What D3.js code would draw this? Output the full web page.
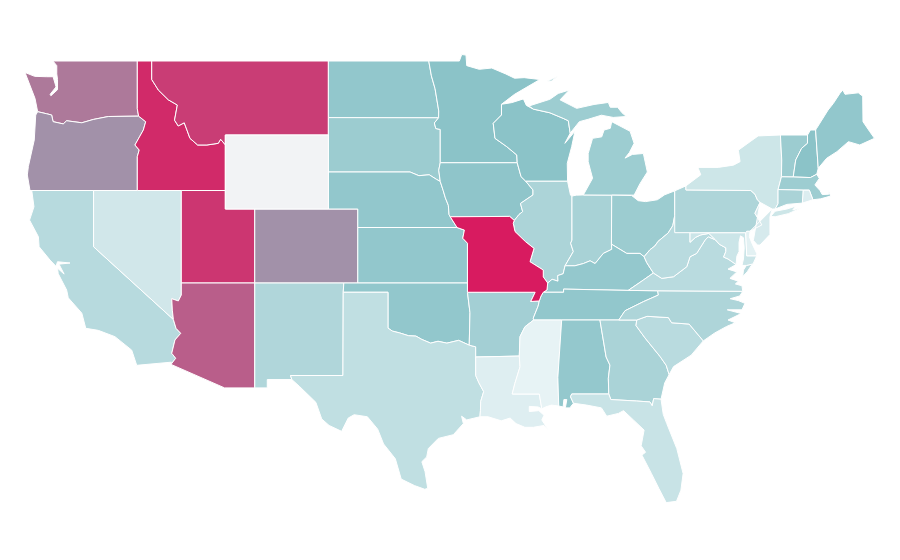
<!DOCTYPE html>
<html>

<head>
    <title>US states choropleth</title>
    <script src="https://d3js.org/d3.v7.min.js"></script>
    <style>
        body {
            margin: 0;
            background: #fff;
        }

        .state {
            stroke: #fff;
            stroke-width: 1;
            stroke-linejoin: round;
        }
    </style>
</head>

<body>
    <svg id="map" width="900" height="560"></svg>

    <script>
        // shared borders, [lon, lat], so that neighbours line up
        var waOr = [[-123.8, 46.26], [-123.2, 46.15], [-122.85, 46.08], [-122.75, 45.72], [-122.06, 45.6], [-121.83, 45.77], [-120.8, 45.66], [-120.02, 45.84], [-119, 46], [-116.94, 46.02]];
        var orId = [[-116.94, 46.02], [-116.46, 45.72], [-116.62, 45.27], [-117.19, 44.46], [-116.9, 44.19], [-117.03, 43.83], [-117.03, 42]];
        var idMt = [[-116.05, 49], [-116.05, 48], [-115.6, 47.43], [-114.92, 46.9], [-114.31, 46.62], [-114.5, 45.8], [-114.25, 45.49], [-113.84, 45.66], [-113.45, 44.82], [-112.93, 44.46], [-112.3, 44.46], [-111.53, 44.55], [-111.37, 44.77], [-111.05, 44.47]];
        var azCol = [[-114.04, 36.35], [-114.24, 36.03], [-114.69, 36.15], [-114.65, 35.53], [-114.58, 35.03]];
        var azCa = [[-114.58, 35.03], [-114.4, 34.55], [-114.08, 34.28], [-114.47, 33.92], [-114.69, 33.2], [-114.42, 32.93], [-114.74, 32.6]];
        var ndMn = [[-97.23, 49], [-97.05, 48.2], [-96.8, 47.5], [-96.55, 46.3], [-96.56, 45.93]];
        var sdMn = [[-96.56, 45.93], [-96.85, 45.65], [-96.75, 45.35], [-96.45, 45.3], [-96.45, 43.5]];
        var sdNe = [[-104.05, 43], [-98.5, 43], [-97.9, 42.8], [-97.2, 42.85], [-96.7, 42.6], [-96.45, 42.49]];
        var sdIa = [[-96.45, 43.5], [-96.55, 43.1], [-96.45, 42.49]];
        var neIa = [[-96.45, 42.49], [-96.25, 42], [-96.1, 41.6], [-95.9, 41.2], [-95.85, 40.7], [-95.77, 40.58]];
        var neMo = [[-95.77, 40.58], [-95.31, 40]];
        var ksMo = [[-95.31, 40], [-94.81, 39.86], [-94.92, 39.42], [-94.6, 39.15], [-94.6, 36.5]];
        var redRiver = [[-100, 34.56], [-99.7, 34.4], [-99.2, 34.3], [-98.6, 34.15], [-98.1, 34.13], [-97.7, 33.95], [-97.1, 33.75], [-96.6, 33.85], [-96, 33.75], [-95.2, 33.9], [-94.48, 33.64]];
        var okAr = [[-94.6, 36.5], [-94.43, 35.4], [-94.48, 33.64]];
        var txLa = [[-94.04, 33], [-94.04, 32], [-93.82, 31.6], [-93.5, 31.13], [-93.7, 30.6], [-93.72, 30.1], [-93.75, 29.77]];
        var mnWi = [[-92.29, 46.66], [-92.29, 46.08], [-92.85, 45.63], [-92.73, 44.82], [-91.93, 44.37], [-91.25, 43.92], [-91.22, 43.5]];
        var iaWi = [[-91.22, 43.5], [-90.96, 42.75], [-90.64, 42.5]];
        var iaIl = [[-90.64, 42.5], [-90.15, 42.03], [-90.15, 41.76], [-91, 41.3], [-90.85, 40.86], [-91.1, 40.7], [-91.42, 40.38]];
        var moIl = [[-91.42, 40.38], [-91.49, 40.23], [-91.37, 39.78], [-90.65, 39.23], [-90.08, 38.87], [-90.35, 38.15], [-89.45, 37.7], [-89.45, 37.33], [-89.15, 37]];
        var moKy = [[-89.15, 37], [-89.2, 36.62], [-89.45, 36.5]];
        var moTn = [[-89.45, 36.5], [-89.6, 36.3], [-89.72, 36.03]];
        var arTn = [[-89.72, 36.03], [-89.8, 35.75], [-90.13, 35.1], [-90.1, 35]];
        var arMs = [[-90.1, 35], [-90.7, 34.63], [-91.03, 34.1], [-91.08, 33.05]];
        var laMs = [[-91.08, 33.05], [-91.03, 32.47], [-91.38, 31.57], [-91.56, 31], [-89.72, 31], [-89.55, 30.2]];
        var ilKy = [[-89.15, 37], [-88.85, 37.2], [-88.45, 37.1], [-88.47, 37.4], [-88.1, 37.5], [-87.97, 37.93]];
        var ilIn = [[-87.97, 37.93], [-87.41, 38.7], [-87.59, 39.15], [-87.5, 39.32], [-87.5, 41.7]];
        var inKy = [[-87.97, 37.93], [-87.3, 37.93], [-86.73, 38.05], [-86.27, 38.2], [-85.93, 38.05], [-85.37, 38.6], [-84.8, 38.82], [-84.82, 39.1]];
        var ohKy = [[-84.82, 39.1], [-83.78, 38.6], [-82.88, 38.6], [-82.6, 38.42]];
        var ohWv = [[-82.6, 38.42], [-82.2, 38.8], [-81.87, 39], [-81.65, 39.25], [-80.97, 39.7], [-80.65, 40.1], [-80.52, 40.64]];
        var kyWv = [[-82.6, 38.42], [-82.42, 38.1], [-81.97, 37.54]];
        var kyVa = [[-81.97, 37.54], [-82.65, 37.16], [-83.68, 36.6]];
        var wvVa = [[-81.97, 37.54], [-81.4, 37.25], [-80.6, 37.34], [-79.7, 37.88], [-79.48, 38.42], [-79.03, 38.6], [-78.46, 39.32], [-78.24, 39.5], [-77.75, 39.33]];
        var mdWv = [[-79.48, 39.72], [-79.48, 39.2], [-79.1, 39.47], [-78.75, 39.6], [-78.2, 39.68], [-77.75, 39.33]];
        var mdVa = [[-77.75, 39.33], [-77.5, 39.1], [-77.05, 38.9], [-77.05, 38.7], [-77.2, 38.4], [-76.9, 38.3], [-76.35, 38]];
        var tnNc = [[-81.68, 36.58], [-81.63, 36.35], [-82.65, 35.99], [-83.9, 35.5], [-84.32, 35]];
        var ncSc = [[-83.1, 35], [-82.4, 35.2], [-80.95, 35.13], [-80.73, 34.85], [-79.54, 34.78], [-78.58, 33.87]];
        var gaSc = [[-83.1, 35], [-83.15, 34.7], [-82.54, 34.03], [-81.52, 33.03], [-81.1, 32.55], [-80.9, 32.05]];
        var gaAl = [[-85.6, 35], [-85.18, 33], [-84.92, 32.56], [-85.03, 31.85], [-85, 31]];
        var gaFl = [[-85, 31], [-84.86, 30.7], [-83.1, 30.62], [-82.2, 30.57], [-82.05, 30.36], [-81.95, 30.75], [-81.45, 30.72]];
        var paNy = [[-79.76, 42.25], [-79.76, 42.03], [-75.35, 42]];
        var delRiver = [[-75.35, 42], [-75.07, 41.8], [-74.9, 41.49], [-74.72, 41.36]];
        var njPa = [[-74.72, 41.36], [-75.07, 40.77], [-74.6, 40.14], [-75.4, 39.8]];
        var vtNh = [[-71.5, 45], [-71.5, 44.55], [-71.9, 44.28], [-72.3, 43.65], [-72.47, 42.73]];
        var nyNe = [[-73.34, 45], [-73.25, 43.65], [-73.27, 42.74], [-73.5, 42.05], [-73.5, 41.29], [-73.7, 41]];

        function rev(seg) { return seg.slice().reverse(); }
        function join() { return [].concat.apply([], arguments); }

        var washington = join([[-122.76, 49], [-117.03, 49], [-117.03, 46.42]], rev(waOr), [[-123.98, 46.98], [-124.66, 48.38], [-124, 48.17], [-123.2, 48.15], [-122.75, 48.15], [-122.55, 47.6], [-122.95, 47.2], [-122.9, 47.12], [-122.45, 47.45], [-122.45, 48], [-122.5, 48.3], [-122.5, 48.75]]);
        var oregon = join(waOr, orId, [[-124.32, 42], [-124.5, 42.84], [-124.43, 43.3], [-124.03, 44.73], [-123.93, 46.08]]);
        var california = join([[-124.2, 42], [-120, 42], [-120, 38.96]], azCa, [[-114.72, 32.72], [-117.07, 32.55], [-117.41, 33.37], [-118.55, 34.1], [-119.68, 34.44], [-120.53, 34.55], [-120.8, 35.37], [-121.72, 36.2], [-121.83, 36.62], [-122.4, 37.5], [-122.45, 37.8], [-122, 37.48], [-122.35, 38.02], [-121.6, 38.08], [-122.45, 38.15], [-122.55, 37.9], [-122.96, 38.24], [-123.7, 38.96], [-123.75, 39.5], [-124.35, 40.4], [-124.05, 41.12]]);
        var nevada = join([[-120, 42], [-114.04, 42]], azCol, [[-120, 38.96]]);
        var idaho = join([[-117.03, 49]], idMt, [[-111.05, 42]], rev(orId), [[-117.03, 46.42]]);
        var montana = join(idMt, [[-111.05, 45], [-104.05, 45], [-104.05, 49]]);
        var wyoming = [[-111.05, 45], [-104.05, 45], [-104.05, 41], [-111.05, 41]];
        var utah = [[-114.04, 42], [-111.05, 42], [-111.05, 41], [-109.05, 41], [-109.05, 37], [-114.04, 37]];
        var colorado = [[-109.05, 41], [-102.05, 41], [-102.05, 37], [-109.05, 37]];
        var arizona = join([[-114.04, 37], [-109.05, 37], [-109.05, 31.33], [-111.1, 31.33]], rev(azCa), rev(azCol));
        var newMexico = [[-109.05, 37], [-103, 37], [-103.04, 36.5], [-103.06, 32], [-106.62, 32], [-106.53, 31.78], [-108.2, 31.78], [-108.2, 31.33], [-109.05, 31.33]];
        var northDakota = join([[-104.05, 49]], ndMn, [[-104.05, 45.94]]);
        var southDakota = join([[-104.05, 45.94]], sdMn, sdIa, rev(sdNe));
        var nebraska = join(sdNe, neIa, neMo, [[-102.05, 40], [-102.05, 41], [-104.05, 41]]);
        var kansas = join([[-102.05, 40]], ksMo.slice(0, 4), [[-94.6, 37], [-102.05, 37]]);
        var oklahoma = join([[-103, 37], [-94.6, 37]], okAr, rev(redRiver), [[-100, 36.5], [-103.04, 36.5]]);
        var texas = join([[-103.04, 36.5], [-100, 36.5]], redRiver, [[-94.04, 33.55]], txLa, [[-94.65, 29.6], [-95, 29.8], [-94.88, 29.4], [-95.56, 28.8], [-96.58, 28.6], [-97.26, 28.05], [-97.37, 27.6], [-97.7, 27.34], [-97.48, 26.8], [-97.3, 25.9], [-97.5, 25.85], [-98.2, 26.05], [-99.1, 26.4], [-99.5, 27.5], [-100.3, 28.3], [-100.7, 29.1], [-101.4, 29.77], [-102.3, 29.88], [-102.7, 29.7], [-103.15, 28.98], [-104, 29.3], [-104.5, 29.65], [-104.9, 30.55], [-106, 31.4], [-106.53, 31.78], [-106.62, 32], [-103.06, 32]]);
        var minnesota = join(ndMn, sdMn, [[-91.22, 43.5]], rev(mnWi), [[-91.4, 47.2], [-89.68, 48], [-90.75, 48.1], [-91.4, 48.07], [-92, 48.3], [-92.95, 48.62], [-93.8, 48.55], [-94.65, 48.75], [-94.7, 49.32], [-94.99, 49.35], [-95.15, 49], [-97.23, 49]]);
        var iowa = join([[-96.45, 43.5], [-91.22, 43.5]], iaWi, iaIl, [[-91.73, 40.6]], rev(neIa), rev(sdIa));
        var missouri = join(rev(neMo), [[-95.77, 40.58], [-91.73, 40.6]], moIl, moKy, moTn, [[-90.3, 36], [-90, 36.5]], rev(ksMo));
        var arkansas = join([[-94.6, 36.5], [-90, 36.5], [-90.3, 36]], arTn, arMs, [[-94.04, 33], [-94.04, 33.55]], rev(okAr));
        var louisiana = join([[-94.04, 33]], laMs, [[-89.8, 30.3], [-90.4, 30.33], [-90.4, 30.05], [-89.75, 30.1], [-89.4, 29.85], [-89.55, 29.6], [-89.1, 29.05], [-89.4, 29.3], [-90.13, 29.2], [-90.7, 29.2], [-91.3, 29.4], [-91.7, 29.7], [-92.3, 29.55], [-93.2, 29.77]], rev(txLa));
        var wisconsin = join(mnWi, iaWi, [[-87.8, 42.5], [-87.82, 43.47], [-87.52, 44.37], [-87.3, 45.2], [-87.98, 44.55], [-87.62, 45.1], [-87.75, 45.77], [-88.1, 45.9], [-89, 46.2], [-90.13, 46.4], [-90.6, 46.6], [-90.8, 46.95], [-91.6, 46.75]]);
        var illinois = join([[-90.64, 42.5], [-87.8, 42.5], [-87.6, 41.75]], rev(ilIn), rev(ilKy), rev(moIl), rev(iaIl));
        var indiana = join([[-87.5, 41.7], [-87.2, 41.75], [-86.73, 41.76], [-84.8, 41.75]], rev(inKy), ilIn.slice(1, 4));
        var michiganLower = [[-86.73, 41.76], [-86.1, 42.66], [-86.4, 43.56], [-86.4, 44], [-86.1, 44.82], [-85.48, 44.9], [-85.32, 45.27], [-84.9, 45.36], [-84.8, 45.72], [-83.55, 45.2], [-83.28, 44.55], [-83.6, 44.05], [-83.9, 43.75], [-83.4, 43.95], [-82.65, 44], [-82.38, 43], [-82.88, 42.37], [-83.28, 41.75], [-84.8, 41.75]];
        var michiganUpper = [[-90.42, 46.57], [-89, 46.93], [-88.43, 47.25], [-87.68, 47.43], [-88.31, 46.9], [-87.18, 46.44], [-86, 46.65], [-85.03, 46.76], [-84.9, 46.5], [-84.4, 46.5], [-84.1, 46.2], [-83.8, 46], [-84.7, 45.95], [-85.5, 46.07], [-86.4, 45.85], [-87, 45.72], [-87.62, 45.1], [-87.75, 45.77], [-88.1, 45.9], [-89, 46.2], [-90.13, 46.4]];
        var isleRoyale = [[-89.2, 47.9], [-88.45, 48.18], [-88.9, 47.92]];
        var ohio = join([[-84.8, 41.75], [-83.45, 41.73], [-83, 41.45], [-82.5, 41.4], [-81.7, 41.5], [-81.2, 41.77], [-80.52, 41.98]], rev(ohWv), rev(ohKy));
        var kentucky = join(ilKy.slice(0, 5), inKy, ohKy, kyWv, kyVa, [[-88.07, 36.67], [-88.07, 36.5]], rev(moKy));
        var tennessee = join([[-89.45, 36.5], [-88.07, 36.5], [-88.07, 36.67], [-83.68, 36.6]], tnNc, [[-90.1, 35]], rev(arTn), rev(moTn));
        var mississippi = join([[-90.1, 35], [-88.2, 35], [-88.46, 31.9], [-88.4, 30.35], [-88.9, 30.4], [-89.3, 30.3]], rev(laMs), rev(arMs));
        var alabama = join([[-88.2, 35]], gaAl, [[-87.52, 31], [-87.6, 30.85], [-87.4, 30.5], [-87.65, 30.25], [-87.95, 30.25], [-87.85, 30.7], [-88.05, 30.7], [-88.1, 30.3], [-88.4, 30.35], [-88.46, 31.9]]);
        var georgia = join([[-85.6, 35]], gaSc, [[-81.2, 31.6]], rev(gaFl), rev(gaAl));
        var florida = join([[-87.52, 31]], gaFl, [[-81.3, 29.9], [-81.06, 29.4], [-80.38, 28.05], [-79.95, 26.7], [-80.1, 25.8], [-80.4, 25.2], [-81.1, 25.13], [-81.6, 25.9], [-82.1, 26.7], [-82.75, 27.7], [-82.5, 27.85], [-82.8, 28.2], [-82.6, 29.05], [-83.33, 29.6], [-84, 30.1], [-84.35, 29.95], [-85.14, 29.8], [-85.5, 30.25], [-86.5, 30.4], [-87.4, 30.5], [-87.6, 30.85]]);
        var southCarolina = join(ncSc, [[-79.4, 33.1], [-80.6, 32.48]], rev(gaSc));
        var northCarolina = join([[-84.32, 35]], rev(tnNc), [[-75.9, 36.55], [-76.1, 36.3], [-76.75, 36.15], [-76.2, 36.05], [-75.75, 35.9], [-75.95, 35.55], [-76.95, 35.55], [-76, 35.35], [-76.9, 35], [-76.4, 34.85], [-77, 34.65], [-77.8, 34.3]], rev(ncSc));
        var virginia = join(rev(kyVa), wvVa, mdVa, [[-76.9, 37.75], [-76.3, 37.6], [-76.77, 37.25], [-76.2, 37.1], [-76.4, 36.95], [-75.95, 36.85], [-75.9, 36.55], [-81.68, 36.58]]);
        var virginiaShore = [[-75.65, 37.95], [-75.25, 38.03], [-75.6, 37.6], [-75.9, 37.35], [-75.85, 37.7]];
        var westVirginia = join([[-80.52, 40.64]], mdWv, rev(wvVa), rev(kyWv), ohWv);
        var maryland = join(mdWv.slice(0, 1), [[-75.7, 39.72], [-75.63, 38.47], [-74.95, 38.47], [-75.2, 38.03], [-75.65, 37.95], [-75.95, 37.95], [-75.85, 38.3], [-75.8, 38.9], [-75.85, 39.45], [-76.05, 39.55], [-76.15, 39.2], [-76.15, 38.7], [-76.3, 38.45]], rev(mdVa), rev(mdWv).slice(1));
        var delaware = [[-75.7, 39.72], [-75.63, 39.8], [-75.4, 39.8], [-75.45, 39.5], [-75.25, 39.1], [-74.95, 38.6], [-74.95, 38.47], [-75.63, 38.47]];
        var pennsylvania = join([[-80.52, 41.98]], paNy, delRiver, njPa, [[-75.63, 39.8], [-75.7, 39.72], [-80.52, 39.72], [-80.52, 40.64]]);
        var newJersey = join(rev(njPa), [[-75.18, 39.3], [-74.9, 39.05], [-74.73, 39.05], [-74.05, 39.62], [-74.05, 40.58], [-73.9, 41]]);
        var newYork = join(rev(paNy), [[-78.75, 42.85], [-78.95, 43.25], [-77.56, 43.25], [-76.53, 43.37], [-76.08, 43.56], [-76.2, 44.18], [-75.4, 44.64], [-74.85, 44.95]], nyNe, [[-73.9, 41], [-74.72, 41.36]], rev(delRiver));
        var longIsland = [[-74, 40.6], [-73.7, 40.88], [-72.9, 41], [-72.3, 41.15], [-72.5, 40.95], [-71.9, 41.07], [-72.8, 40.75], [-73.7, 40.58]];
        var vermont = join([[-73.34, 45]], vtNh, [[-73.27, 42.74], [-73.25, 43.65]]);
        var newHampshire = join(vtNh, [[-71.3, 42.7], [-70.87, 42.88], [-70.77, 43.2], [-70.95, 45.27], [-71.3, 45.27]]);
        var maine = [[-70.95, 45.27], [-70.88, 45.36], [-70.1, 46.35], [-69.75, 46.7], [-69.3, 47.25], [-69.1, 47.43], [-68.95, 47.2], [-68.05, 47.28], [-67.75, 47.1], [-67.73, 45.72], [-67.27, 45.18], [-66.95, 44.82], [-67.95, 44.46], [-68.72, 44.64], [-69.5, 44.1], [-70.2, 43.74], [-70.77, 43.2]];
        var massachusetts = [[-73.27, 42.74], [-72.47, 42.73], [-71.3, 42.7], [-70.87, 42.88], [-70.7, 42.65], [-71, 42.3], [-70.65, 42], [-70.5, 41.78], [-70.05, 41.8], [-70.1, 42.05], [-69.93, 41.7], [-70.6, 41.55], [-71.13, 41.5], [-71.38, 42.02], [-71.8, 42.02], [-73.5, 42.05]];
        var rhodeIsland = [[-71.8, 42.02], [-71.38, 42.02], [-71.13, 41.5], [-71.85, 41.32]];
        var connecticut = [[-73.5, 42.05], [-71.8, 42.02], [-71.85, 41.32], [-72.9, 41.25], [-73.7, 41], [-73.5, 41.29]];

        var stateNames = ["Washington", "Oregon", "California", "Nevada", "Idaho", "Montana", "Utah", "Colorado", "Arizona", "New Mexico", "North Dakota", "South Dakota", "Nebraska", "Kansas", "Oklahoma", "Texas", "Minnesota", "Iowa", "Arkansas", "Louisiana", "Wisconsin", "Illinois", "Indiana", "Michigan", "Ohio", "Kentucky", "Tennessee", "Mississippi", "Alabama", "Georgia", "Florida", "South Carolina", "North Carolina", "Virginia", "West Virginia", "Maryland", "Delaware", "Pennsylvania", "New Jersey", "New York", "Vermont", "New Hampshire", "Maine", "Massachusetts", "Rhode Island", "Connecticut", "Missouri", "Wyoming"];
        var stateValues = [72, 65, 26, 12, 95.5, 90, 92, 65, 80, 30, 46, 41, 46, 46, 46, 21, 50, 48, 37, 5, 50, 32, 34, 40, 41, 45, 46, 0, 45, 33, 17, 25, 31, 25, 25, 15, 2, 31, 9, 14, 41, 50, 46, 40, 6, 33, 100, null];
        var stateShapes = [[washington], [oregon], [california], [nevada], [idaho], [montana], [utah], [colorado], [arizona], [newMexico], [northDakota], [southDakota], [nebraska], [kansas], [oklahoma], [texas], [minnesota], [iowa], [arkansas], [louisiana], [wisconsin], [illinois], [indiana], [michiganLower, michiganUpper, isleRoyale], [ohio], [kentucky], [tennessee], [mississippi], [alabama], [georgia], [florida], [southCarolina], [northCarolina], [virginia, virginiaShore], [westVirginia], [maryland], [delaware], [pennsylvania], [newJersey], [newYork, longIsland], [vermont], [newHampshire], [maine], [massachusetts], [rhodeIsland], [connecticut], [missouri], [wyoming]];

        // the map is plain lon/lat, stretched differently on each axis
        var x = d3.scaleLinear().domain([-109, -102]).range([255.5, 358.54]);
        var y = d3.scaleLinear().domain([49, 37]).range([61, 283]);

        var path = d3.geoPath(d3.geoTransform({
            point: function (lon, lat) {
                this.stream.point(x(lon), y(lat));
            }
        }));

        var color = d3.scaleLinear()
            .domain([0, 50, 100])
            .range(["#e7f3f5", "#8bc3c8", "#d81b60"]);

        var states = stateNames.map(function (name, i) {
            return {
                name: name,
                value: stateValues[i],
                geometry: {
                    type: "MultiPolygon",
                    coordinates: stateShapes[i].map(function (ring) { return [ring.concat([ring[0]])]; })
                }
            };
        });

        d3.select("#map").append("g")
            .selectAll("path")
            .data(states)
            .enter()
            .append("path")
            .attr("class", "state")
            .attr("d", function (d) { return path(d.geometry); })
            .style("fill", function (d) { return d.value === null ? "#f2f3f5" : color(d.value); })
            .append("title")
            .text(function (d) { return d.name; });
    </script>
</body>

</html>
